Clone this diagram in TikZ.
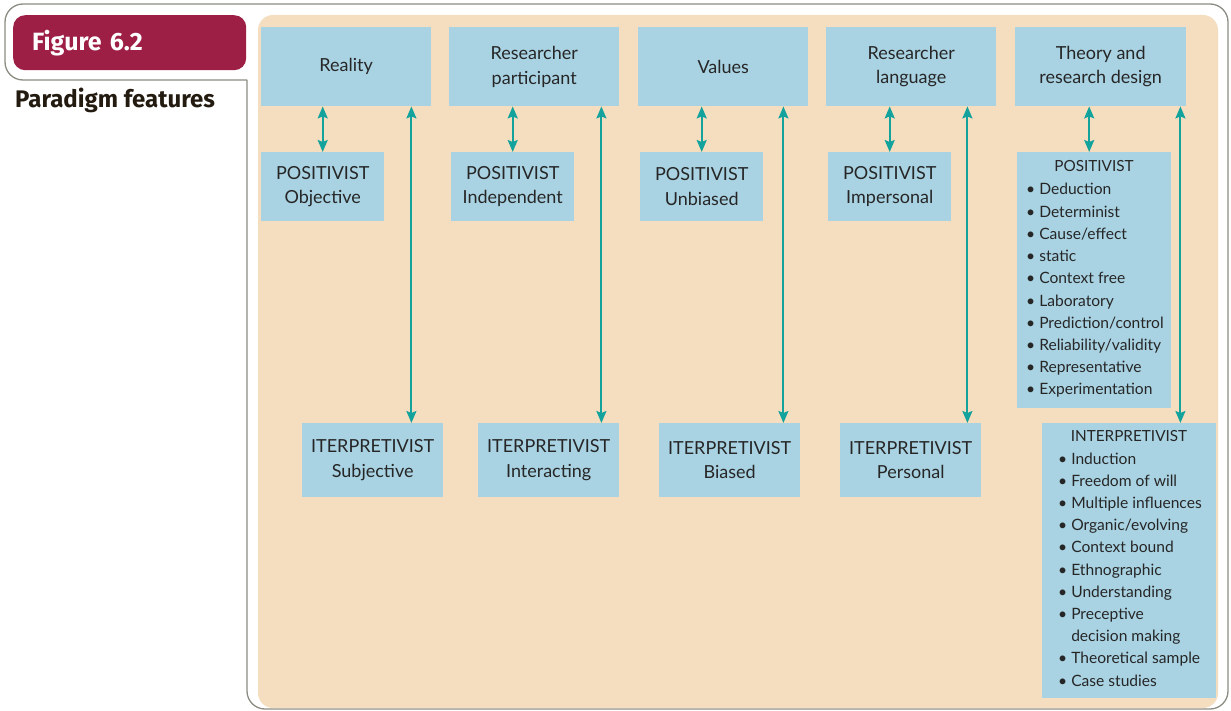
\documentclass[tikz,border=0pt]{standalone}
\usepackage{fontspec}
\setmainfont{Lato}
\newfontfamily\headfont{Fira Sans}
\usetikzlibrary{arrows.meta}
\definecolor{crim}{HTML}{9E1F45}
\definecolor{peach}{HTML}{F5DEC0}
\definecolor{boxblue}{HTML}{A9D3E3}
\definecolor{tealc}{HTML}{14A39C}
\definecolor{txt}{HTML}{262626}
\definecolor{framec}{HTML}{8C8C82}
\definecolor{darkbrown}{HTML}{231A10}
\newcommand\bul{\textbullet\ }
\begin{document}
\begin{tikzpicture}[x=1pt,y=-1pt,
  bluebox/.style={fill=boxblue, draw=none, inner sep=0pt, align=center,
    font=\fontsize{18}{24.5}\selectfont, text=txt, anchor=north west},
  topbox/.style={bluebox, minimum width=170pt, minimum height=79pt},
  posbox/.style={bluebox, minimum width=123pt, minimum height=69pt},
  intbox/.style={bluebox, minimum width=141pt, minimum height=74pt},
  listitem/.style={anchor=base west, inner sep=0pt, font=\fontsize{15.6}{18}\selectfont, text=txt},
  listhead/.style={anchor=base, inner sep=0pt, font=\fontsize{15.3}{18}\selectfont, text=txt},
  darr/.style={draw=tealc, line width=2pt, {Stealth[length=12pt,width=10pt,inset=2pt]}-{Stealth[length=12pt,width=10pt,inset=2pt]}}
]
\useasboundingbox (0,0) rectangle (1231,711);
% outer frame
\draw[framec, line width=1.3pt, line cap=square, rounded corners=18pt]
  (247,80) -- (5,80) -- (5,4) -- (1228,4) -- (1228,709) -- (247,709) -- (247,80);
% peach panel
\fill[peach, rounded corners=15pt] (258,15) rectangle (1218,708);
% figure label
\node[fill=crim, rounded corners=12pt, anchor=north west, inner xsep=19pt, inner ysep=0pt,
  text width=195pt, minimum height=55pt, align=left, text=white,
  font=\headfont\bfseries\fontsize{25}{28}\selectfont] (fig) at (13,15) {Figure 6.2};
\node[anchor=base west, inner sep=0pt, text=darkbrown,
  font=\headfont\bfseries\fontsize{24}{28}\selectfont] (pf) at (15,108) {Paradigm features};

% top boxes
\node[topbox] (t1) at (261,27) {Reality};
\node[topbox] (t2) at (449,27) {Researcher\\participant};
\node[topbox] (t3) at (638,27) {Values};
\node[topbox] (t4) at (826,27) {Researcher\\language};
\node[topbox, minimum width=171pt] (t5) at (1015,27) {Theory and\\research design};

% positivist boxes
\node[posbox] (p1) at (261,152) {POSITIVIST\\Objective};
\node[posbox] (p2) at (451,152) {POSITIVIST\\Independent};
\node[posbox] (p3) at (640,152) {POSITIVIST\\Unbiased};
\node[posbox] (p4) at (828,152) {POSITIVIST\\Impersonal};
\node[bluebox, minimum width=154pt, minimum height=256pt] (p5) at (1017,152) {};

% interpretivist boxes
\node[intbox] (i1) at (302,423) {ITERPRETIVIST\\Subjective};
\node[intbox] (i2) at (478,423) {ITERPRETIVIST\\Interacting};
\node[intbox] (i3) at (659,423) {ITERPRETIVIST\\Biased};
\node[intbox] (i4) at (840,423) {ITERPRETIVIST\\Personal};
\node[bluebox, minimum width=174pt, minimum height=275pt] (i5) at (1042,423) {};

% positivist list
\node[listhead] (p5h) at (1094,172) {POSITIVIST};
\foreach \t [count=\i] in {Deduction, Determinist, Cause/effect, static, Context free,
  Laboratory, Prediction/control, Reliability/validity, Representative, Experimentation}
  \node[listitem] (p5i\i) at (1026,{195+22.2*(\i-1)}) {\bul\t};

% interpretivist list
\node[listhead] (i5h) at (1129,441) {INTERPRETIVIST};
\foreach \t [count=\i] in {\bul Induction, \bul Freedom of will, \bul Multiple influences,
  \bul Organic/evolving, \bul Context bound, \bul Ethnographic, \bul Understanding,
  \bul Preceptive, \phantom{\bul}decision making, \bul Theoretical sample, \bul Case studies}
  \node[listitem] (i5i\i) at (1058,{464+22.2*(\i-1)}) {\t};

% short arrows
\draw[darr] (p1.north |- t1.south) -- (p1.north);
\draw[darr] (p2.north |- t2.south) -- (p2.north);
\draw[darr] (p3.north |- t3.south) -- (p3.north);
\draw[darr] (p4.north |- t4.south) -- (p4.north);
\draw[darr] ([xshift=-5pt]p5.north |- t5.south) -- ([xshift=-5pt]p5.north);
% long arrows
\draw[darr] ([xshift=-20pt]t1.south east) -- ([xshift=-20pt]t1.south east |- i1.north);
\draw[darr] ([xshift=-18pt]t2.south east) -- ([xshift=-18pt]t2.south east |- i2.north);
\draw[darr] ([xshift=-25pt]t3.south east) -- ([xshift=-25pt]t3.south east |- i3.north);
\draw[darr] ([xshift=-29pt]t4.south east) -- ([xshift=-29pt]t4.south east |- i4.north);
\draw[darr] ([xshift=-6pt]t5.south east) -- ([xshift=-6pt]t5.south east |- i5.north);
\end{tikzpicture}
\end{document}
